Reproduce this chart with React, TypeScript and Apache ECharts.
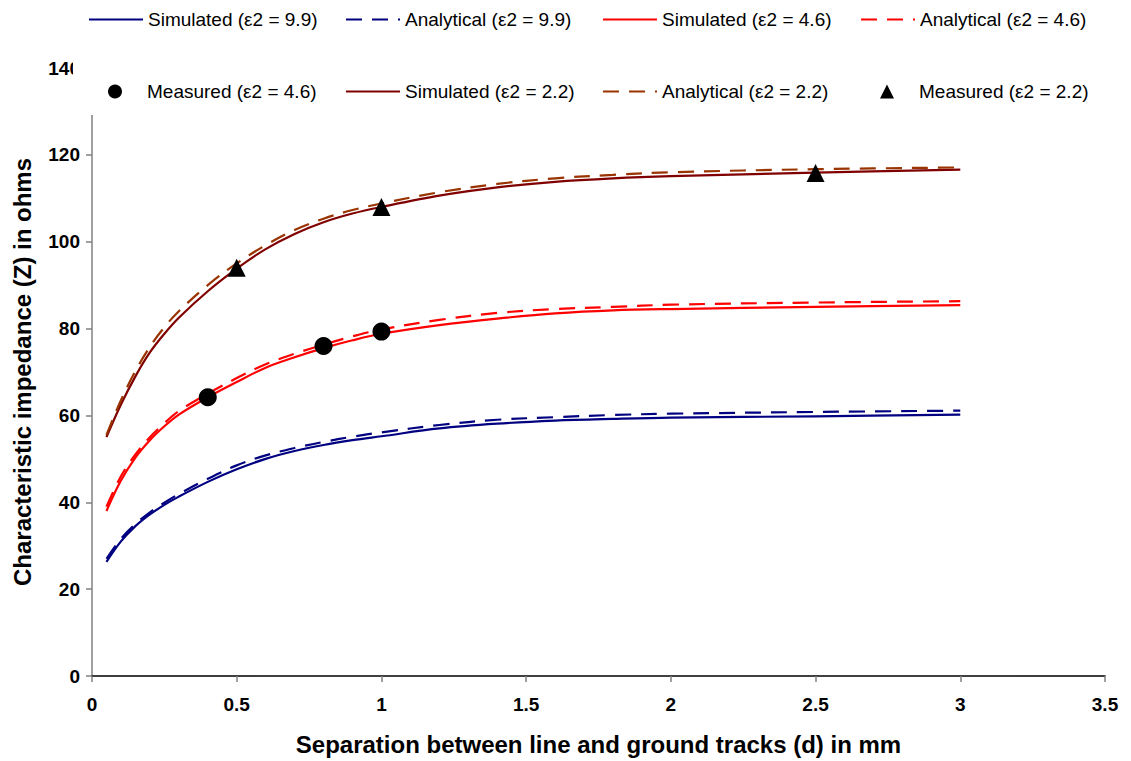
import React, { useEffect, useRef } from "react";
import * as echarts from "echarts";

const xs = [0.05, 0.1, 0.15, 0.2, 0.25, 0.3, 0.4, 0.5, 0.6, 0.7, 0.8, 0.9, 1.0, 1.2, 1.4, 1.6, 1.8, 2.0, 2.5, 3.0];

const sim99 = [26.3, 31.0, 34.5, 37.2, 39.4, 41.3, 44.7, 47.6, 50.0, 51.8, 53.2, 54.3, 55.2, 57.0, 58.1, 58.8, 59.2, 59.5, 59.8, 60.2];
const ana99 = [27.0, 31.6, 35.0, 37.7, 39.9, 41.9, 45.4, 48.5, 50.8, 52.5, 53.9, 55.1, 56.1, 57.8, 59.0, 59.6, 60.1, 60.4, 60.8, 61.1];
const sim46 = [38.0, 45.0, 50.3, 54.3, 57.5, 60.2, 64.2, 67.7, 71.0, 73.4, 75.5, 77.3, 78.8, 80.8, 82.3, 83.5, 84.2, 84.5, 85.0, 85.4];
const ana46 = [39.0, 46.0, 51.0, 55.0, 58.2, 61.0, 65.0, 68.6, 71.8, 74.2, 76.3, 78.2, 79.8, 82.0, 83.6, 84.5, 85.0, 85.5, 86.0, 86.3];
const sim22 = [55.0, 62.5, 69.0, 74.5, 78.8, 82.5, 88.6, 93.8, 98.3, 101.8, 104.5, 106.5, 108.0, 110.6, 112.5, 113.8, 114.6, 115.1, 115.9, 116.6];
const ana22 = [55.5, 63.5, 70.2, 75.8, 80.3, 84.0, 90.0, 95.0, 99.2, 102.7, 105.3, 107.3, 108.8, 111.4, 113.3, 114.6, 115.4, 116.0, 116.7, 117.1];

const meas46X = [0.4, 0.8, 1.0];
const meas46Y = [64.2, 76.0, 79.3];
const meas22X = [0.5, 1.0, 2.5];
const meas22Y = [94.0, 108.0, 115.8];

const names = [
  "Simulated (ε2 = 9.9)",
  "Analytical (ε2 = 9.9)",
  "Simulated (ε2 = 4.6)",
  "Analytical (ε2 = 4.6)",
  "Measured (ε2 = 4.6)",
  "Simulated (ε2 = 2.2)",
  "Analytical (ε2 = 2.2)",
  "Measured (ε2 = 2.2)",
];

const pair = (x: number[], y: number[]) => x.map((v, i) => [v, y[i]]);

const FONT = "'Liberation Sans', Arial, sans-serif";

export default function App() {
  const ref = useRef<HTMLDivElement>(null);
  useEffect(() => {
    if (!ref.current) return;
    const chart = echarts.init(ref.current, undefined, { renderer: "svg" });
    const dash = [16, 10];
    const lineSeries = (name: string, ys: number[], color: string, dashed: boolean) => ({
      name,
      type: "line",
      data: pair(xs, ys),
      symbol: "none",
      smooth: 0.35,
      lineStyle: { color, width: 2.2, type: dashed ? dash : "solid" },
      itemStyle: { color },
      z: 2,
    });
    const legendPos: [number, number][] = [
      [88, 10], [345, 10], [602, 10], [860, 10],
      [108, 82], [345, 82], [602, 82], [880, 82],
    ];
    const icons: (string | null)[] = [null, null, null, null, "circle", null, null, "triangle"];
    const legends = names.map((n, i) => {
      const base: any = {
        data: [n],
        left: legendPos[i][0],
        top: legendPos[i][1],
        padding: 0,
        itemGap: 0,
        selectedMode: false,
        z: 10,
      };
      if (icons[i]) {
        return {
          ...base,
          icon: icons[i],
          itemWidth: 14,
          itemHeight: 14,
          itemStyle: { color: "#000", opacity: 1, borderWidth: 0 },
          textStyle: { fontFamily: FONT, fontSize: 19, color: "#000", padding: [0, 0, 0, 20] },
        };
      }
      return {
        ...base,
        itemWidth: 54,
        itemHeight: 14,
        itemStyle: { opacity: 0 },
        textStyle: { fontFamily: FONT, fontSize: 19, color: "#000" },
      };
    });
    chart.setOption({
      animation: false,
      backgroundColor: "#fff",
      textStyle: { fontFamily: FONT },
      grid: { left: 92, right: 26, top: 68, bottom: 84, containLabel: false },
      legend: legends,
      graphic: [
        { type: "rect", left: 73, top: 50, shape: { width: 30, height: 65 }, style: { fill: "#fff" }, z: 100 },
      ],
      xAxis: {
        type: "value",
        min: 0,
        max: 3.5,
        interval: 0.5,
        name: "Separation between line and ground tracks (d) in mm",
        nameLocation: "middle",
        nameGap: 56,
        nameTextStyle: { fontFamily: FONT, fontSize: 24, fontWeight: "bold", color: "#000" },
        axisLine: { lineStyle: { color: "#000", width: 1.5 } },
        axisTick: { show: true, inside: false, length: 6, lineStyle: { color: "#808080", width: 1.5 } },
        axisLabel: { fontFamily: FONT, fontSize: 19, fontWeight: "bold", color: "#000", margin: 19 },
        splitLine: { show: false },
      },
      yAxis: {
        type: "value",
        min: 0,
        max: 140,
        interval: 20,
        name: "Characteristic impedance (Z) in ohms",
        nameLocation: "middle",
        nameGap: 58,
        nameTextStyle: { fontFamily: FONT, fontSize: 24, fontWeight: "bold", color: "#000" },
        axisLine: { show: true, lineStyle: { color: "#808080", width: 1.5 } },
        axisTick: { show: true, inside: false, length: 6, lineStyle: { color: "#808080", width: 1.5 } },
        axisLabel: { fontFamily: FONT, fontSize: 19, fontWeight: "bold", color: "#000", margin: 12 },
        splitLine: { show: false },
      },
      series: [
        lineSeries(names[0], sim99, "#000080", false),
        lineSeries(names[1], ana99, "#000080", true),
        lineSeries(names[2], sim46, "#FF0000", false),
        lineSeries(names[3], ana46, "#FF0000", true),
        {
          name: names[4],
          type: "scatter",
          data: pair(meas46X, meas46Y),
          symbol: "circle",
          symbolSize: 18,
          itemStyle: { color: "#000", opacity: 1 },
          z: 5,
        },
        lineSeries(names[5], sim22, "#800000", false),
        lineSeries(names[6], ana22, "#993300", true),
        {
          name: names[7],
          type: "scatter",
          data: pair(meas22X, meas22Y),
          symbol: "triangle",
          symbolSize: 18,
          itemStyle: { color: "#000", opacity: 1 },
          z: 5,
        },
      ],
    });
    return () => chart.dispose();
  }, []);
  return <div ref={ref} style={{ width: 1131, height: 761, position: "absolute", left: 0, top: 0 }} />;
}
